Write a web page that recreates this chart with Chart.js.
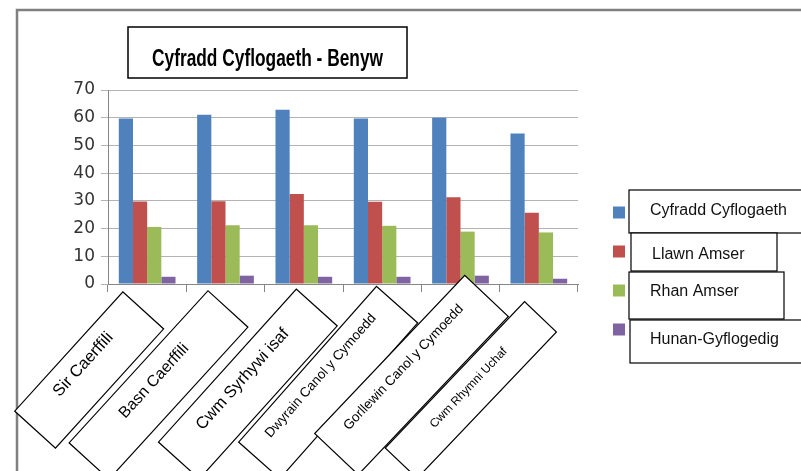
<!DOCTYPE html>
<html>
<head>
<meta charset="utf-8">
<title>Cyfradd Cyflogaeth - Benyw</title>
<script src="https://cdn.jsdelivr.net/npm/chart.js"></script>
<style>
  html, body { margin: 0; padding: 0; background: #fff; }
  #wrap { width: 801px; height: 471px; }
</style>
</head>
<body>
<div id="wrap"><canvas id="chart" width="801" height="471"></canvas></div>
<script>
var chartTitle = "Cyfradd Cyflogaeth - Benyw";
var categories = ["Sir Caerffili", "Basn Caerffili", "Cwm Syrhywi isaf",
	"Dwyrain Canol y Cymoedd", "Gorllewin Canol y Cymoedd", "Cwm Rhymni Uchaf"];
var seriesNames = ["Cyfradd Cyflogaeth", "Llawn Amser", "Rhan Amser", "Hunan-Gyflogedig"];
var cyfradd = [59.7, 61.1, 62.9, 59.7, 60.0, 54.3];
var llawnAmser = [29.8, 29.9, 32.5, 29.7, 31.3, 25.7];
var rhanAmser = [20.6, 21.2, 21.2, 21.0, 18.9, 18.6];
var hunan = [2.6, 3.0, 2.6, 2.6, 3.0, 1.9];
var yTicks = [0, 10, 20, 30, 40, 50, 60, 70];

var colours = ["#4F81BD", "#C0504D", "#9BBB59", "#8064A2"];

// rotated text boxes under the axis, one per category (offsets from the category centre)
var labelBoxes = [
	{ dx: -58, cy: 370, len: 161, thick: 55, ang: 47.8, up: 8, size: 16.5 },
	{ dx: -67, cy: 385, len: 206, thick: 54, ang: 47.6, up: 6, size: 16 },
	{ dx: -56, cy: 384, len: 206, thick: 55, ang: 48, up: 7, size: 16.5 },
	{ dx: -54, cy: 382.5, len: 208, thick: 55, ang: 48.5, up: 10, size: 13.5 },
	{ dx: -49, cy: 375, len: 218, thick: 60, ang: 46.5, up: 11, size: 13.5 },
	{ dx: -68, cy: 390, len: 202, thick: 44, ang: 46.4, up: 3, size: 12 }
];

// the boxed legend entries on the right
var legendBoxes = [
	{ x: 629, y: 190, w: 190, h: 43, tx: 650, ty: 211, sy: 212.5 },
	{ x: 631, y: 233, w: 146, h: 38, tx: 652, ty: 255, sy: 251.5 },
	{ x: 629, y: 272, w: 155, h: 47, tx: 650, ty: 292, sy: 290.5 },
	{ x: 630, y: 320, w: 190, h: 43, tx: 650, ty: 340, sy: 329.5 }
];

var framePlugin = {
	id: "frame",
	beforeDraw: function( chart ) {
		var ctx = chart.ctx;
		ctx.save();
		ctx.fillStyle = "#ffffff";
		ctx.fillRect( 0, 0, chart.width, chart.height );
		ctx.strokeStyle = "#808080";
		ctx.lineWidth = 2.5;
		ctx.beginPath();
		ctx.moveTo( 17, chart.height );
		ctx.lineTo( 17, 10 );
		ctx.lineTo( chart.width, 10 );
		ctx.stroke();
		ctx.restore();
	}
};

var titlePlugin = {
	id: "boxTitle",
	afterDraw: function( chart ) {
		var ctx = chart.ctx;
		ctx.save();
		ctx.strokeStyle = "#000";
		ctx.lineWidth = 1.5;
		ctx.strokeRect( 128, 27, 279, 51 );
		ctx.font = "bold 23px 'Liberation Sans', Arial, sans-serif";
		var w = ctx.measureText( chartTitle ).width;
		// the original title is set in a narrow face
		ctx.translate( 267.5, 66 );
		ctx.scale( 231 / w, 1 );
		ctx.fillStyle = "#000";
		ctx.textAlign = "center";
		ctx.textBaseline = "alphabetic";
		ctx.fillText( chartTitle, 0, 0 );
		ctx.restore();
	}
};

var legendPlugin = {
	id: "boxLegend",
	afterDraw: function( chart ) {
		var ctx = chart.ctx;
		ctx.save();
		chart.data.datasets.forEach( function( ds, i ) {
			var b = legendBoxes[i];
			ctx.fillStyle = "#fff";
			ctx.fillRect( b.x, b.y, b.w, b.h );
			ctx.strokeStyle = "#000";
			ctx.lineWidth = 1.2;
			ctx.strokeRect( b.x, b.y, b.w, b.h );
			ctx.fillStyle = ds.backgroundColor;
			ctx.fillRect( 613, b.sy - 6, 12, 12 );
			ctx.fillStyle = "#111";
			ctx.font = "16px 'Liberation Sans', Arial, sans-serif";
			ctx.textAlign = "left";
			ctx.textBaseline = "middle";
			ctx.fillText( ds.label, b.tx, b.ty );
		} );
		ctx.restore();
	}
};

var xLabelPlugin = {
	id: "boxLabels",
	afterDraw: function( chart ) {
		var ctx = chart.ctx;
		var xs = chart.scales.x;
		chart.data.labels.forEach( function( label, i ) {
			var b = labelBoxes[i];
			var cx = xs.getPixelForValue( i ) + b.dx;
			ctx.save();
			ctx.translate( cx, b.cy );
			ctx.rotate( -b.ang * Math.PI / 180 );
			ctx.fillStyle = "#fff";
			ctx.fillRect( -b.len / 2, -b.thick / 2, b.len, b.thick );
			ctx.strokeStyle = "#000";
			ctx.lineWidth = 1.2;
			ctx.strokeRect( -b.len / 2, -b.thick / 2, b.len, b.thick );
			ctx.fillStyle = "#000";
			ctx.font = b.size + "px 'Liberation Sans', Arial, sans-serif";
			ctx.textAlign = "center";
			ctx.textBaseline = "middle";
			ctx.fillText( label, 0, -b.up );
			ctx.restore();
		} );
	}
};

var seriesValues = [cyfradd, llawnAmser, rhanAmser, hunan];

new Chart( document.getElementById( "chart" ), {
	type: "bar",
	data: {
		labels: categories,
		datasets: seriesNames.map( function( name, i ) {
			return {
				label: name,
				data: seriesValues[i],
				backgroundColor: colours[i],
				borderWidth: 0,
				categoryPercentage: 0.724,
				barPercentage: 1.0
			};
		} )
	},
	options: {
		responsive: false,
		animation: false,
		devicePixelRatio: 1,
		layout: { padding: { top: 90, right: 223, bottom: 0, left: 0 } },
		plugins: {
			legend: { display: false },
			title: { display: false },
			tooltip: { enabled: false }
		},
		scales: {
			x: {
				offset: true,
				grid: { display: true, offset: true, drawOnChartArea: false, drawTicks: true, tickLength: 8, color: "#868686" },
				border: { display: true, color: "#868686", width: 1 },
				ticks: { display: false },
				afterFit: function( s ) { s.height = 471 - 284; }
			},
			y: {
				min: 0,
				max: 70,
				afterBuildTicks: function( s ) {
					s.ticks = yTicks.map( function( v ) { return { value: v }; } );
				},
				ticks: { padding: 6, color: "#333", font: { family: "DejaVu Sans", size: 17 } },
				grid: { color: "#b3b3b3", tickLength: 7, lineWidth: 1 },
				border: { color: "#868686", width: 1 },
				afterFit: function( s ) { s.width = 108; }
			}
		}
	},
	plugins: [framePlugin, titlePlugin, legendPlugin, xLabelPlugin]
} );
</script>
</body>
</html>
